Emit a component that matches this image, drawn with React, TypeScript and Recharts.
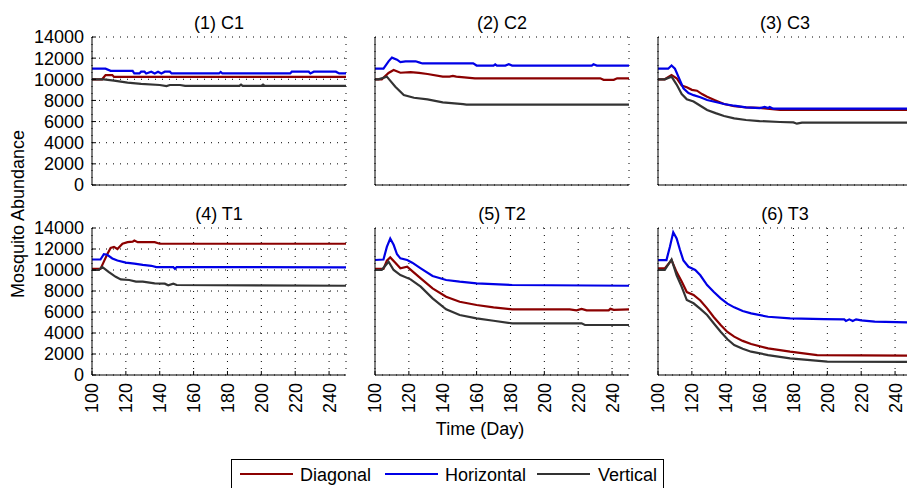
import { LineChart, Line, XAxis, YAxis, CartesianGrid } from 'recharts';

const FONT = '"Liberation Sans", Arial, Helvetica, sans-serif';
const FS = 18;

const xTicks = [100, 120, 140, 160, 180, 200, 220, 240];
const yTicks = [0, 2000, 4000, 6000, 8000, 10000, 12000, 14000];
const seriesNames = ['Diagonal', 'Horizontal', 'Vertical'];
const seriesColors = ['#8b0000', '#0000e6', '#333333'];

// [day, abundance]
const c1Diagonal = [[100, 10000], [106, 10000], [108, 10400], [112, 10400], [113, 10220], [250, 10220]];
const c1Horizontal = [
  [100, 11000], [108, 11000], [111, 10800], [124, 10800], [125, 10550], [128, 10550], [129, 10720], [131, 10720],
  [132, 10550], [135, 10720], [137, 10550], [139, 10720], [141, 10550], [143, 10720], [146, 10720], [147, 10550],
  [175, 10550], [176, 10700], [177, 10550], [217, 10550], [218, 10720], [228, 10720], [229, 10550], [231, 10720],
  [244, 10720], [246, 10550], [250, 10550],
];
const c1Vertical = [
  [100, 10000], [107, 10000], [113, 9870], [121, 9680], [129, 9560], [140, 9460], [144, 9350], [146, 9460],
  [152, 9460], [155, 9370], [187, 9370], [188, 9500], [189, 9370], [200, 9370], [201, 9500], [202, 9370], [250, 9370],
];

const c2Diagonal = [
  [100, 10000], [104, 10000], [108, 10600], [111, 10880], [115, 10620], [121, 10680], [126, 10600], [131, 10500],
  [140, 10250], [144, 10250], [146, 10320], [148, 10250], [159, 10090], [233, 10090], [235, 9950], [241, 9950],
  [243, 10090], [250, 10090],
];
const c2Horizontal = [
  [100, 11000], [105, 11000], [108, 11700], [110, 12050], [113, 11850], [115, 11620], [118, 11700], [124, 11700],
  [126, 11600], [128, 11500], [158, 11500], [160, 11300], [170, 11300], [171, 11420], [172, 11300], [177, 11300],
  [179, 11420], [181, 11300], [228, 11300], [229, 11420], [231, 11300], [250, 11300],
];
const c2Vertical = [
  [100, 10000], [102, 10000], [107, 10250], [112, 9300], [117, 8510], [123, 8250], [131, 8100], [140, 7820],
  [152, 7650], [154, 7600], [250, 7600],
];

const c3Diagonal = [
  [100, 10000], [104, 10000], [108, 10400], [111, 10100], [114, 9400], [117, 9240], [120, 9000], [123, 8920],
  [126, 8600], [129, 8350], [134, 8000], [139, 7660], [145, 7450], [152, 7350], [160, 7300], [172, 7100], [250, 7100],
];
const c3Horizontal = [
  [100, 11000], [106, 11000], [108, 11300], [110, 11000], [113, 9900], [115, 9150], [118, 8700], [121, 8500],
  [125, 8300], [129, 8040], [134, 7850], [139, 7660], [145, 7500], [152, 7350], [160, 7280], [163, 7380],
  [165, 7280], [166, 7380], [168, 7220], [250, 7220],
];
const c3Vertical = [
  [100, 10000], [104, 10000], [108, 10250], [111, 9500], [114, 8600], [117, 8100], [121, 7900], [125, 7500],
  [129, 7100], [134, 6800], [139, 6530], [145, 6300], [152, 6150], [160, 6050], [172, 5960], [180, 5920],
  [182, 5800], [185, 5900], [250, 5900],
];

const t1Diagonal = [
  [100, 10100], [105, 10100], [107, 10800], [109, 11500], [111, 12100], [113, 12200], [115, 12000], [118, 12500],
  [121, 12650], [124, 12700], [125, 12800], [127, 12650], [137, 12650], [140, 12500], [250, 12500],
];
const t1Horizontal = [
  [100, 11000], [105, 11000], [107, 11500], [109, 11450], [112, 11100], [115, 10900], [120, 10700], [125, 10600],
  [130, 10480], [135, 10400], [138, 10280], [148, 10280], [149, 10100], [150, 10280], [250, 10250],
];
const t1Vertical = [
  [100, 10000], [104, 10000], [106, 10300], [110, 9800], [114, 9350], [117, 9100], [122, 9050], [126, 8900],
  [130, 8890], [134, 8800], [137, 8730], [143, 8700], [145, 8550], [148, 8700], [150, 8570], [250, 8500],
];

const t2Diagonal = [
  [100, 10100], [105, 10100], [107, 10900], [109, 11200], [112, 10700], [115, 10160], [119, 10310], [122, 9900],
  [127, 9200], [134, 8250], [142, 7460], [150, 6980], [160, 6670], [170, 6440], [181, 6250], [215, 6250],
  [219, 6150], [222, 6300], [225, 6150], [238, 6150], [239, 6300], [241, 6200], [250, 6250],
];
const t2Horizontal = [
  [100, 10950], [105, 11000], [107, 12200], [109, 13000], [111, 12400], [113, 11500], [115, 11110], [119, 10950],
  [122, 10700], [127, 10160], [134, 9430], [142, 9050], [150, 8890], [160, 8730], [181, 8570], [250, 8500],
];
const t2Vertical = [
  [100, 10000], [104, 10000], [108, 10790], [111, 10000], [115, 9520], [121, 9110], [127, 8410], [134, 7300],
  [142, 6250], [150, 5710], [160, 5400], [170, 5170], [181, 4920], [222, 4920], [224, 4760], [250, 4760],
];

const t3Diagonal = [
  [100, 10150], [104, 10150], [108, 10950], [111, 9800], [114, 8900], [117, 7900], [121, 7620], [125, 7100],
  [129, 6350], [133, 5500], [137, 4760], [141, 4100], [145, 3650], [150, 3250], [155, 2950], [165, 2540],
  [178, 2220], [194, 1900], [250, 1850],
];
const t3Horizontal = [
  [100, 10950], [105, 10950], [107, 12200], [109, 13590], [111, 13000], [113, 11900], [115, 10900], [118, 10310],
  [122, 10000], [125, 9500], [129, 8570], [133, 7900], [137, 7300], [141, 6800], [145, 6440], [150, 6100],
  [155, 5870], [165, 5550], [178, 5400], [198, 5330], [210, 5300], [211, 5150], [213, 5300], [215, 5150],
  [217, 5300], [220, 5200], [228, 5080], [250, 5000],
];
const t3Vertical = [
  [100, 10000], [104, 10000], [108, 11000], [111, 9500], [114, 8400], [117, 7140], [121, 6830], [125, 6300],
  [129, 5710], [133, 4900], [137, 4120], [141, 3400], [145, 2860], [150, 2500], [155, 2220], [165, 1900],
  [178, 1590], [200, 1270], [250, 1250],
];

const PLOT_W = 254;
const Y_AXIS_W = 70;

const panels = [
  { title: '(1) C1', left: 92, top: 37, h: 148, showY: true, showX: false, series: [c1Diagonal, c1Horizontal, c1Vertical] },
  { title: '(2) C2', left: 375, top: 37, h: 148, showY: false, showX: false, series: [c2Diagonal, c2Horizontal, c2Vertical] },
  { title: '(3) C3', left: 658, top: 37, h: 148, showY: false, showX: false, series: [c3Diagonal, c3Horizontal, c3Vertical] },
  { title: '(4) T1', left: 92, top: 228, h: 147, showY: true, showX: true, series: [t1Diagonal, t1Horizontal, t1Vertical] },
  { title: '(5) T2', left: 375, top: 228, h: 147, showY: false, showX: true, series: [t2Diagonal, t2Horizontal, t2Vertical] },
  { title: '(6) T3', left: 658, top: 228, h: 147, showY: false, showX: true, series: [t3Diagonal, t3Horizontal, t3Vertical] },
];

function toPoints(pairs: number[][]) {
  return pairs.map(([d, v]) => ({ d, v }));
}

function RotatedTick(props: any) {
  const { x, y, payload } = props;
  return (
    <text x={x} y={y} transform={`rotate(-90, ${x}, ${y})`} textAnchor="end" dy="0.36em" fontSize={FS} fontFamily={FONT} fill="#000">
      {payload.value}
    </text>
  );
}

function Panel({ p }: { p: (typeof panels)[number] }) {
  const width = Y_AXIS_W + PLOT_W + 10;
  const height = 10 + p.h + 50;
  return (
    <>
      <div
        style={{
          position: 'absolute',
          left: p.left,
          top: p.top - 25,
          width: PLOT_W,
          textAlign: 'center',
          fontFamily: FONT,
          fontSize: FS,
          lineHeight: '22px',
        }}
      >
        {p.title}
      </div>
      <div style={{ position: 'absolute', left: p.left - Y_AXIS_W, top: p.top - 10 }}>
        <LineChart width={width} height={height} margin={{ top: 10, right: 10, bottom: 0, left: 0 }}>
          <CartesianGrid stroke="#000" strokeDasharray="1 6" />
          <XAxis
            xAxisId={0}
            dataKey="d"
            type="number"
            domain={[100, 250]}
            ticks={xTicks}
            allowDataOverflow
            height={50}
            axisLine={{ stroke: '#000' }}
            tickLine={{ stroke: '#000' }}
            tickSize={-4}
            tickMargin={12}
            tick={p.showX ? <RotatedTick /> : false}
            interval={0}
          />
          <XAxis
            xAxisId="top"
            orientation="top"
            dataKey="d"
            type="number"
            domain={[100, 250]}
            ticks={xTicks}
            height={0}
            axisLine={{ stroke: '#000' }}
            tickLine={{ stroke: '#000' }}
            tickSize={-4}
            tick={false}
          />
          <YAxis
            yAxisId={0}
            type="number"
            domain={[0, 14000]}
            ticks={yTicks}
            width={Y_AXIS_W}
            axisLine={{ stroke: '#000' }}
            tickLine={{ stroke: '#000' }}
            tickSize={-4}
            tickMargin={12}
            tick={p.showY ? { fontSize: FS, fill: '#000', fontFamily: FONT } : false}
            interval={0}
          />
          <YAxis
            yAxisId="right"
            orientation="right"
            type="number"
            domain={[0, 14000]}
            ticks={yTicks}
            width={0}
            axisLine={{ stroke: '#000' }}
            tickLine={{ stroke: '#000' }}
            tickSize={-4}
            tick={false}
          />
          {p.series.map((s, i) => (
            <Line
              key={seriesNames[i]}
              name={seriesNames[i]}
              data={toPoints(s)}
              dataKey="v"
              type="linear"
              stroke={seriesColors[i]}
              strokeWidth={2.2}
              dot={false}
              isAnimationActive={false}
            />
          ))}
        </LineChart>
      </div>
    </>
  );
}

const legendItems = [
  { line: 240, text: 300 },
  { line: 385, text: 445 },
  { line: 537, text: 598 },
];

export default function App() {
  return (
    <div
      style={{
        position: 'absolute',
        left: 0,
        top: 0,
        width: 907,
        height: 488,
        overflow: 'hidden',
        background: '#fff',
        fontFamily: FONT,
        color: '#000',
      }}
    >
      {panels.map((p) => (
        <Panel key={p.title} p={p} />
      ))}

      <div
        style={{
          position: 'absolute',
          left: 18 - 150,
          top: 214 - 11,
          width: 300,
          height: 22,
          lineHeight: '22px',
          textAlign: 'center',
          fontSize: FS,
          transform: 'rotate(-90deg)',
        }}
      >
        Mosquito Abundance
      </div>

      <div
        style={{
          position: 'absolute',
          left: 480 - 100,
          top: 418,
          width: 200,
          lineHeight: '22px',
          textAlign: 'center',
          fontSize: FS,
        }}
      >
        Time (Day)
      </div>

      <div
        style={{
          position: 'absolute',
          left: 231,
          top: 459,
          width: 433,
          height: 40,
          border: '1px solid #000',
          boxSizing: 'border-box',
        }}
      />
      {legendItems.map((it, i) => (
        <div key={seriesNames[i]}>
          <div
            style={{
              position: 'absolute',
              left: it.line,
              top: 473,
              width: 53,
              height: 2,
              background: seriesColors[i],
            }}
          />
          <div style={{ position: 'absolute', left: it.text, top: 464, fontSize: FS, lineHeight: '22px', whiteSpace: 'nowrap' }}>
            {seriesNames[i]}
          </div>
        </div>
      ))}
    </div>
  );
}
